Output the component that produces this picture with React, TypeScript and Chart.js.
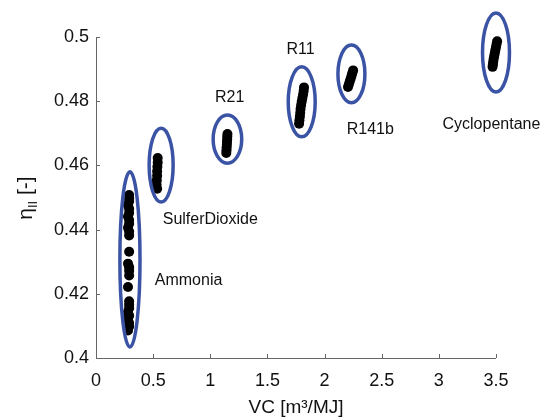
import React, { useEffect, useRef } from "react";
import { Chart, registerables } from "chart.js";

Chart.register(...registerables);

// ---- data ----
const ammoniaX = [0.29, 0.29, 0.29, 0.28, 0.29, 0.29, 0.28, 0.29, 0.29, 0.28, 0.29, 0.29, 0.29, 0.28, 0.29, 0.29, 0.29, 0.28, 0.29, 0.29, 0.29, 0.28, 0.29, 0.28, 0.29, 0.29, 0.28];
const ammoniaY = [0.4508, 0.4498, 0.4488, 0.4476, 0.4465, 0.4452, 0.4441, 0.443, 0.4418, 0.4406, 0.4394, 0.4382, 0.4331, 0.4294, 0.4283, 0.4272, 0.4257, 0.4221, 0.4177, 0.4166, 0.4155, 0.4143, 0.4132, 0.412, 0.4109, 0.4098, 0.4086];
const so2X = [0.54, 0.54, 0.537, 0.535, 0.535, 0.532, 0.53, 0.535];
const so2Y = [0.4623, 0.4609, 0.4596, 0.4582, 0.4568, 0.4554, 0.454, 0.4527];
const r21X = [1.15, 1.149, 1.148, 1.146, 1.145, 1.143, 1.142, 1.14];
const r21Y = [0.4698, 0.469, 0.4681, 0.4673, 0.4664, 0.4656, 0.4647, 0.4639];
const r11X = [1.82, 1.817, 1.812, 1.806, 1.8, 1.795, 1.79, 1.787, 1.784, 1.78, 1.777];
const r11Y = [0.4843, 0.4832, 0.4821, 0.481, 0.4799, 0.4788, 0.4776, 0.4764, 0.4752, 0.4741, 0.473];
const r141bX = [2.25, 2.243, 2.236, 2.228, 2.22, 2.212, 2.205];
const r141bY = [0.4896, 0.4888, 0.4879, 0.487, 0.4861, 0.4852, 0.4844];
const cycloX = [3.51, 3.505, 3.5, 3.495, 3.49, 3.485, 3.48, 3.476, 3.473, 3.47];
const cycloY = [0.4987, 0.4978, 0.4969, 0.496, 0.4951, 0.4942, 0.4933, 0.4924, 0.4915, 0.4907];

const xTicks = [0, 0.5, 1, 1.5, 2, 2.5, 3, 3.5];
const yTicks = [0.4, 0.42, 0.44, 0.46, 0.48, 0.5];

// ellipse annotations (centre x, centre y, radius x, radius y) in data units
const ellipseCX = [0.297, 0.57, 1.15, 1.8, 2.235, 3.5];
const ellipseCY = [0.4307, 0.4601, 0.4682, 0.4798, 0.4885, 0.4952];
const ellipseRX = [0.088, 0.105, 0.125, 0.118, 0.118, 0.118];
const ellipseRY = [0.0273, 0.0115, 0.0075, 0.0109, 0.009, 0.0123];

// text labels
const labelText = ["Ammonia", "SulferDioxide", "R21", "R11", "R141b", "Cyclopentane"];
const labelX = [0.81, 1.0, 1.17, 1.79, 2.4, 3.46];
const labelY = [0.424, 0.443, 0.481, 0.496, 0.471, 0.4726];

const xTitle = "VC [m³/MJ]";

const zip = (xs: number[], ys: number[]) => xs.map((x, i) => ({ x, y: ys[i] }));

const FONT = "'Liberation Sans', Arial, sans-serif";

const annotationPlugin = {
  id: "annot",
  afterDatasetsDraw(chart: any) {
    const ctx = chart.ctx as CanvasRenderingContext2D;
    const xs = chart.scales.x;
    const ys = chart.scales.y;
    const area = chart.chartArea;
    ctx.save();
    // ellipses
    ctx.strokeStyle = "#3a53a4";
    ctx.lineWidth = 3.5;
    for (let i = 0; i < ellipseCX.length; i++) {
      const cx = xs.getPixelForValue(ellipseCX[i]);
      const cy = ys.getPixelForValue(ellipseCY[i]);
      const rx = Math.abs(xs.getPixelForValue(ellipseCX[i] + ellipseRX[i]) - cx);
      const ry = Math.abs(ys.getPixelForValue(ellipseCY[i] + ellipseRY[i]) - cy);
      ctx.beginPath();
      ctx.ellipse(cx, cy, rx, ry, 0, 0, Math.PI * 2);
      ctx.stroke();
    }
    // labels
    ctx.fillStyle = "#111";
    ctx.font = `16px ${FONT}`;
    ctx.textAlign = "center";
    ctx.textBaseline = "middle";
    for (let i = 0; i < labelText.length; i++) {
      ctx.fillText(labelText[i], xs.getPixelForValue(labelX[i]), ys.getPixelForValue(labelY[i]));
    }
    // axis lines
    ctx.strokeStyle = "#666";
    ctx.lineWidth = 1;
    ctx.beginPath();
    ctx.moveTo(area.left + 0.5, area.top);
    ctx.lineTo(area.left + 0.5, area.bottom + 0.5);
    ctx.lineTo(area.right, area.bottom + 0.5);
    ctx.stroke();
    // inward ticks
    ctx.beginPath();
    for (const t of xTicks) {
      const px = Math.round(xs.getPixelForValue(t)) + 0.5;
      ctx.moveTo(px, area.bottom);
      ctx.lineTo(px, area.bottom - 4);
    }
    for (const t of yTicks) {
      const py = Math.round(ys.getPixelForValue(t)) + 0.5;
      ctx.moveTo(area.left, py);
      ctx.lineTo(area.left + 4, py);
    }
    ctx.stroke();
    // x title
    ctx.fillStyle = "#111";
    ctx.font = `19px ${FONT}`;
    ctx.textAlign = "center";
    ctx.textBaseline = "middle";
    ctx.fillText(xTitle, (area.left + area.right) / 2, 408);
    // y title with subscript
    ctx.translate(27, 198);
    ctx.rotate(-Math.PI / 2);
    const big = `21px ${FONT}`;
    const small = `13px ${FONT}`;
    ctx.font = big;
    const w1 = ctx.measureText("η").width;
    const w3 = ctx.measureText(" [-]").width;
    ctx.font = small;
    const w2 = ctx.measureText("II").width;
    const total = w1 + w2 + w3;
    let x0 = -total / 2;
    ctx.textAlign = "left";
    ctx.textBaseline = "alphabetic";
    ctx.font = big;
    ctx.fillText("η", x0, 5);
    x0 += w1;
    ctx.font = small;
    ctx.fillText("II", x0, 10);
    x0 += w2;
    ctx.font = big;
    ctx.fillText(" [-]", x0, 5);
    ctx.restore();
  },
};

const series = [
  zip(ammoniaX, ammoniaY),
  zip(so2X, so2Y),
  zip(r21X, r21Y),
  zip(r11X, r11Y),
  zip(r141bX, r141bY),
  zip(cycloX, cycloY),
];

export default function App() {
  const ref = useRef<HTMLCanvasElement | null>(null);
  useEffect(() => {
    if (!ref.current) return;
    const chart = new Chart(ref.current, {
      type: "scatter",
      data: {
        datasets: series.map((d, i) => ({
          label: labelText[i],
          data: d,
          backgroundColor: "#000",
          borderColor: "#000",
          pointRadius: 5,
          pointBorderWidth: 0,
          clip: false as any,
        })),
      },
      options: {
        animation: false,
        responsive: false,
        maintainAspectRatio: false,
        layout: { padding: { top: 37, right: 47, left: 0, bottom: 0 } },
        plugins: { legend: { display: false }, tooltip: { enabled: false } },
        scales: {
          x: {
            type: "linear",
            min: 0,
            max: 3.5,
            afterFit: (s: any) => {
              s.height = 61;
            },
            afterBuildTicks: (s: any) => {
              s.ticks = xTicks.map((v) => ({ value: v }));
            },
            grid: { display: false, drawTicks: false },
            border: { display: false },
            ticks: {
              padding: 12,
              color: "#111",
              font: { family: FONT, size: 18 },
              callback: (v: any) => String(v),
              maxRotation: 0,
              autoSkip: false,
            },
          },
          y: {
            type: "linear",
            min: 0.4,
            max: 0.5,
            afterFit: (s: any) => {
              s.width = 96;
            },
            afterBuildTicks: (s: any) => {
              s.ticks = yTicks.map((v) => ({ value: v }));
            },
            grid: { display: false, drawTicks: false },
            border: { display: false },
            ticks: {
              padding: 7,
              color: "#111",
              font: { family: FONT, size: 18 },
              callback: (v: any) => String(parseFloat(Number(v).toFixed(2))),
              autoSkip: false,
            },
          },
        },
      },
      plugins: [annotationPlugin],
    });
    return () => chart.destroy();
  }, []);
  return (
    <div style={{ position: "fixed", left: 0, top: 0, width: 543, height: 419, background: "#fff" }}>
      <canvas ref={ref} width={543} height={419} style={{ width: 543, height: 419 }} />
    </div>
  );
}
